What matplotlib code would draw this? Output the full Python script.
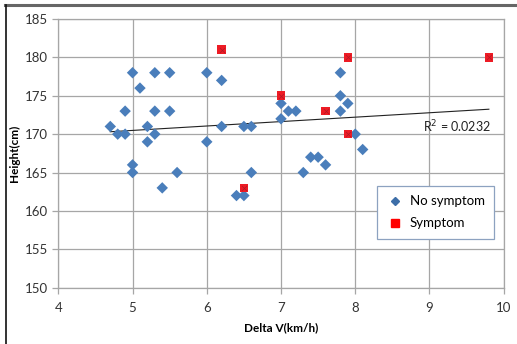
import numpy as np
import matplotlib
matplotlib.use('Agg')
import matplotlib.pyplot as plt
from matplotlib.lines import Line2D

# ── Data ──────────────────────────────────────────────────────────────────────
# Delta V (km/h) and height (cm), subjects without symptoms
no_symptom_dv = [4.7, 4.8, 4.9, 4.9, 5.0, 5.0, 5.0, 5.1, 5.2, 5.2,
                 5.3, 5.3, 5.3, 5.4, 5.5, 5.5, 5.6, 6.0, 6.0, 6.2,
                 6.2, 6.4, 6.5, 6.5, 6.6, 6.6, 7.0, 7.0, 7.1, 7.2,
                 7.3, 7.4, 7.5, 7.6, 7.8, 7.8, 7.8, 7.9, 8.0, 8.1]
no_symptom_h = [171, 170, 173, 170, 178, 166, 165, 176, 171, 169,
                178, 173, 170, 163, 178, 173, 165, 178, 169, 177,
                171, 162, 171, 162, 171, 165, 174, 172, 173, 173,
                165, 167, 167, 166, 178, 175, 173, 174, 170, 168]

# subjects with symptoms
symptom_dv = [6.2, 6.5, 7.0, 7.6, 7.9, 7.9, 9.8]
symptom_h = [181, 163, 175, 173, 180, 170, 180]

r2_label = 'R$^2$ = 0.0232'

# ── Plot ──────────────────────────────────────────────────────────────────────
plt.rcParams['font.family'] = ['Lato', 'DejaVu Sans']

fig = plt.figure(figsize=(5.17, 3.44), dpi=100)
ax = fig.add_axes([0.1128, 0.1637, 0.8615, 0.7811])

grid_c = '#a6a6a6'
ax.set_xlim(4, 10)
ax.set_ylim(150, 185)
ax.set_xticks(np.arange(4, 11, 1))
ax.set_yticks(np.arange(150, 186, 5))
ax.grid(True, color=grid_c, linewidth=0.9)
ax.set_axisbelow(True)
for s in ax.spines.values():
    s.set_color(grid_c)
    s.set_linewidth(0.9)
ax.tick_params(axis='both', colors=grid_c, length=4, width=0.9,
               labelsize=9.5, labelcolor='#333333')
ax.tick_params(axis='x', pad=6)

# linear trend over all subjects
all_dv = np.array(no_symptom_dv + symptom_dv)
all_h = np.array(no_symptom_h + symptom_h)
slope, icpt = np.polyfit(all_dv, all_h, 1)
xs = np.array([all_dv.min(), all_dv.max()])
ax.plot(xs, slope * xs + icpt, color='#222222', linewidth=0.8, zorder=3)

ax.scatter(no_symptom_dv, no_symptom_h, marker='D', s=34, color='#4a7ebb',
           edgecolors='none', zorder=4)
ax.scatter(symptom_dv, symptom_h, marker='s', s=38, color='#ee1c25',
           edgecolors='none', zorder=5)
ax.scatter(symptom_dv, symptom_h, marker='x', s=14, color='#b01828',
           linewidths=0.5, zorder=6)

ax.text(9.83, 171.0, r2_label, fontsize=9, ha='right', va='center',
        color='#222222')

ax.set_xlabel('Delta V(km/h)', fontsize=8.5, fontweight='bold', labelpad=6)
ax.set_ylabel('Height(cm)', fontsize=8.5, fontweight='bold', labelpad=3)

handles = [Line2D([], [], marker='D', linestyle='none', color='#3d6ea8',
                  markersize=4.5),
           Line2D([], [], marker='s', linestyle='none', color='#ff0000',
                  markersize=6)]
leg = ax.legend(handles, ['No symptom', 'Symptom'], loc='upper left',
                bbox_to_anchor=(0.716, 0.38), fontsize=9.5, frameon=True,
                fancybox=False, framealpha=1, borderpad=0.75,
                handletextpad=0.5, labelspacing=0.75, handlelength=1.2,
                borderaxespad=0)
leg.get_frame().set_edgecolor('#8da2c0')
leg.get_frame().set_linewidth(0.9)

# outer frame lines
fig.add_artist(Line2D([0.01, 1.0], [0.985, 0.985], color='#666666',
                      linewidth=2.2, transform=fig.transFigure))
fig.add_artist(Line2D([0.012, 0.012], [0.0, 0.985], color='#111111',
                      linewidth=1.2, transform=fig.transFigure))

fig.savefig('out.png', dpi=100)
